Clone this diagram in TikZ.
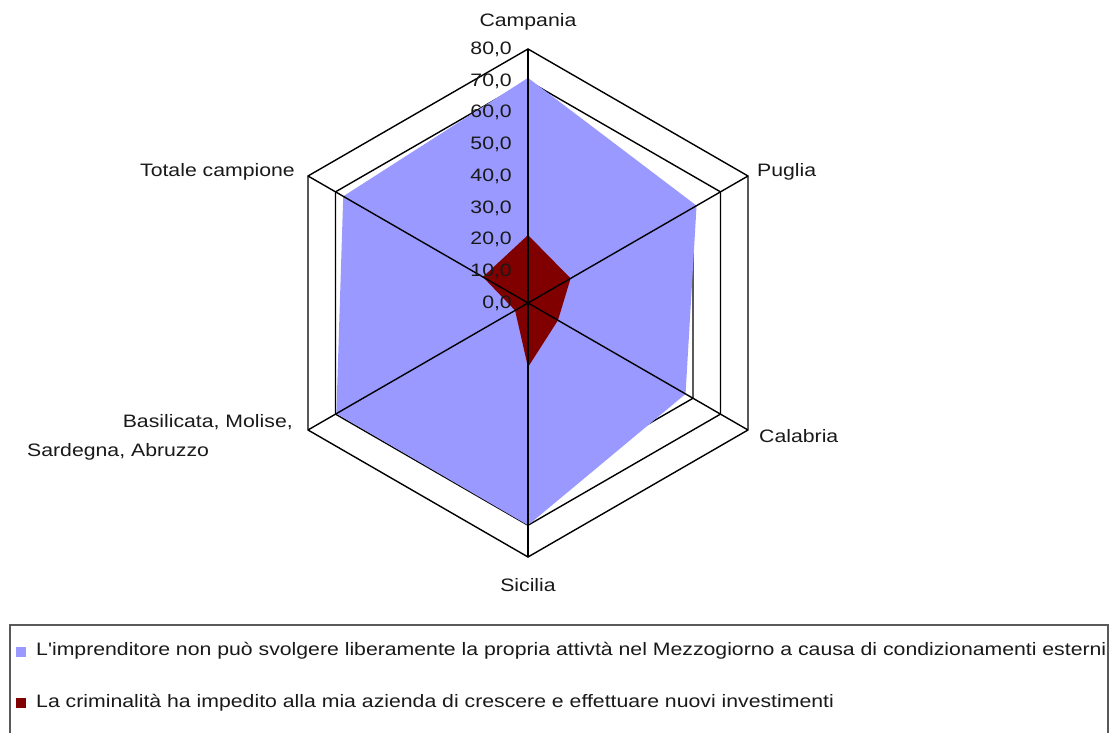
\documentclass[tikz,border=0pt]{standalone}
\usepackage{fontspec}
\setmainfont{Liberation Sans}
\newfontfamily\chartfont[FakeStretch=1.18]{Liberation Sans}
\usetikzlibrary{calc}
\definecolor{serieblue}{HTML}{9999FF}
\definecolor{seriered}{HTML}{800000}
\begin{document}
\begin{tikzpicture}[x=1pt,y=1pt,
  gridline/.style={draw=black, line width=1.4pt},
  spoke/.style={draw=black, line width=1.4pt},
  lbl/.style={font=\chartfont\fontsize{18}{21}\selectfont, inner sep=0pt, text=black!90},
  legendbox/.style={draw=black!65, line width=1.6pt},
  swatch/.style={inner sep=0pt, minimum size=10pt}
]
\useasboundingbox (0,0) rectangle (1112,733);
\coordinate (O) at (528,430);
\def\s{3.175}
% gridlines (hexagons 10..80)
\foreach \v in {10,20,...,80}{
  \draw[gridline, shift={(O)}] (90:{\v*\s}) -- (30:{\v*\s}) -- (-30:{\v*\s}) -- (-90:{\v*\s}) -- (210:{\v*\s}) -- (150:{\v*\s}) -- cycle;
}
% series 1 (blue)
\fill[serieblue, shift={(O)}] (90:{70.9*\s}) -- (30:{61.3*\s}) -- (-30:{57.3*\s}) -- (-90:{70*\s}) -- (210:{69.7*\s}) -- (150:{67.2*\s}) -- cycle;
% series 2 (dark red)
\fill[seriered, shift={(O)}] (90:{21.4*\s}) -- (30:{15.5*\s}) -- (-30:{10.9*\s}) -- (-90:{20.2*\s}) -- (210:{4.7*\s}) -- (150:{16.4*\s}) -- cycle;
% spokes
\foreach \a in {90,30,-30,-90,210,150}{
  \draw[spoke] (O) -- ($(O)+(\a:{80*\s})$);
}
% value labels
\foreach \k in {0,...,8}{
  \pgfmathtruncatemacro\val{\k*10}
  \node[lbl, anchor=base east] (v\k) at ($(O)+(-16,{\k*31.75-5.5})$) {\val,0};
}
% category labels
\node[lbl, anchor=base] (campania) at (528,706) {Campania};
\node[lbl, anchor=base west] (puglia) at (757,556) {Puglia};
\node[lbl, anchor=base west] (calabria) at (759,290) {Calabria};
\node[lbl, anchor=base] (sicilia) at (528,141) {Sicilia};
\node[lbl, anchor=base east] (totale) at (295,556) {Totale campione};
\node[lbl, anchor=base east] (basil) at (293,305) {Basilicata, Molise,};
\node[lbl, anchor=base west] (sard) at (27,276) {Sardegna, Abruzzo};
% legend
\draw[legendbox] (10,108) -- (1108,108) -- (1108,-10) -- (10,-10) -- cycle;
\node[swatch, fill=serieblue] (sw1) at (20.5,81) {};
\node[lbl, anchor=base west] (leg1) at (36,77) {L'imprenditore non può svolgere liberamente la propria attivtà nel Mezzogiorno a causa di condizionamenti esterni};
\node[swatch, fill=seriered] (sw2) at (20.5,29.5) {};
\node[lbl, anchor=base west] (leg2) at (36,25) {La criminalità ha impedito alla mia azienda di crescere e effettuare nuovi investimenti};
\end{tikzpicture}
\end{document}
